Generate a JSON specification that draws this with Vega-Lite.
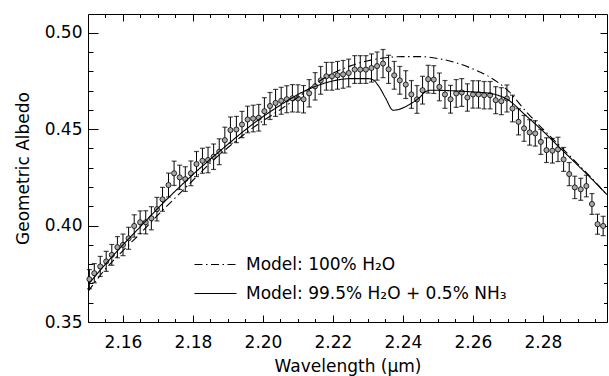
{
  "$schema": "https://vega.github.io/schema/vega-lite/v6.json",
  "width": 519,
  "height": 308,
  "autosize": {"type": "none"},
  "padding": {"left": 88, "top": 14, "right": 2, "bottom": 54},
  "background": "white",
  "datasets": {
    "obs": [
      {"wl": 2.1504, "alb": 0.3722, "err": 0.0050},
      {"wl": 2.1518, "alb": 0.3753, "err": 0.0050},
      {"wl": 2.1535, "alb": 0.3788, "err": 0.0052},
      {"wl": 2.1552, "alb": 0.3814, "err": 0.0052},
      {"wl": 2.1568, "alb": 0.3848, "err": 0.0054},
      {"wl": 2.1584, "alb": 0.3888, "err": 0.0055},
      {"wl": 2.1600, "alb": 0.3900, "err": 0.0056},
      {"wl": 2.1616, "alb": 0.3934, "err": 0.0057},
      {"wl": 2.1632, "alb": 0.3998, "err": 0.0058},
      {"wl": 2.1649, "alb": 0.4017, "err": 0.0059},
      {"wl": 2.1665, "alb": 0.4017, "err": 0.0060},
      {"wl": 2.1681, "alb": 0.4038, "err": 0.0060},
      {"wl": 2.1697, "alb": 0.4085, "err": 0.0061},
      {"wl": 2.1713, "alb": 0.4136, "err": 0.0062},
      {"wl": 2.1730, "alb": 0.4210, "err": 0.0062},
      {"wl": 2.1746, "alb": 0.4271, "err": 0.0063},
      {"wl": 2.1762, "alb": 0.4250, "err": 0.0063},
      {"wl": 2.1778, "alb": 0.4241, "err": 0.0064},
      {"wl": 2.1794, "alb": 0.4271, "err": 0.0064},
      {"wl": 2.1810, "alb": 0.4319, "err": 0.0065},
      {"wl": 2.1827, "alb": 0.4336, "err": 0.0065},
      {"wl": 2.1843, "alb": 0.4340, "err": 0.0066},
      {"wl": 2.1859, "alb": 0.4357, "err": 0.0066},
      {"wl": 2.1875, "alb": 0.4383, "err": 0.0067},
      {"wl": 2.1891, "alb": 0.4443, "err": 0.0067},
      {"wl": 2.1907, "alb": 0.4495, "err": 0.0068},
      {"wl": 2.1924, "alb": 0.4498, "err": 0.0068},
      {"wl": 2.1940, "alb": 0.4524, "err": 0.0068},
      {"wl": 2.1956, "alb": 0.4550, "err": 0.0069},
      {"wl": 2.1972, "alb": 0.4555, "err": 0.0069},
      {"wl": 2.1988, "alb": 0.4559, "err": 0.0069},
      {"wl": 2.2004, "alb": 0.4593, "err": 0.0070},
      {"wl": 2.2020, "alb": 0.4620, "err": 0.0070},
      {"wl": 2.2036, "alb": 0.4636, "err": 0.0070},
      {"wl": 2.2052, "alb": 0.4647, "err": 0.0070},
      {"wl": 2.2068, "alb": 0.4655, "err": 0.0070},
      {"wl": 2.2084, "alb": 0.4660, "err": 0.0071},
      {"wl": 2.2100, "alb": 0.4659, "err": 0.0071},
      {"wl": 2.2116, "alb": 0.4655, "err": 0.0071},
      {"wl": 2.2132, "alb": 0.4686, "err": 0.0071},
      {"wl": 2.2149, "alb": 0.4722, "err": 0.0071},
      {"wl": 2.2165, "alb": 0.4753, "err": 0.0072},
      {"wl": 2.2181, "alb": 0.4774, "err": 0.0072},
      {"wl": 2.2197, "alb": 0.4774, "err": 0.0072},
      {"wl": 2.2213, "alb": 0.4779, "err": 0.0072},
      {"wl": 2.2229, "alb": 0.4784, "err": 0.0072},
      {"wl": 2.2245, "alb": 0.4791, "err": 0.0072},
      {"wl": 2.2262, "alb": 0.4809, "err": 0.0072},
      {"wl": 2.2278, "alb": 0.4809, "err": 0.0072},
      {"wl": 2.2294, "alb": 0.4809, "err": 0.0072},
      {"wl": 2.2310, "alb": 0.4817, "err": 0.0073},
      {"wl": 2.2326, "alb": 0.4827, "err": 0.0073},
      {"wl": 2.2343, "alb": 0.4840, "err": 0.0073},
      {"wl": 2.2359, "alb": 0.4810, "err": 0.0073},
      {"wl": 2.2375, "alb": 0.4779, "err": 0.0072},
      {"wl": 2.2391, "alb": 0.4753, "err": 0.0072},
      {"wl": 2.2408, "alb": 0.4731, "err": 0.0072},
      {"wl": 2.2424, "alb": 0.4680, "err": 0.0072},
      {"wl": 2.2440, "alb": 0.4654, "err": 0.0072},
      {"wl": 2.2456, "alb": 0.4702, "err": 0.0072},
      {"wl": 2.2472, "alb": 0.4759, "err": 0.0072},
      {"wl": 2.2488, "alb": 0.4757, "err": 0.0072},
      {"wl": 2.2504, "alb": 0.4719, "err": 0.0072},
      {"wl": 2.2520, "alb": 0.4680, "err": 0.0072},
      {"wl": 2.2536, "alb": 0.4655, "err": 0.0072},
      {"wl": 2.2552, "alb": 0.4685, "err": 0.0072},
      {"wl": 2.2568, "alb": 0.4690, "err": 0.0072},
      {"wl": 2.2584, "alb": 0.4664, "err": 0.0071},
      {"wl": 2.2600, "alb": 0.4680, "err": 0.0071},
      {"wl": 2.2616, "alb": 0.4680, "err": 0.0071},
      {"wl": 2.2632, "alb": 0.4676, "err": 0.0071},
      {"wl": 2.2649, "alb": 0.4676, "err": 0.0071},
      {"wl": 2.2665, "alb": 0.4650, "err": 0.0070},
      {"wl": 2.2681, "alb": 0.4645, "err": 0.0070},
      {"wl": 2.2697, "alb": 0.4659, "err": 0.0070},
      {"wl": 2.2713, "alb": 0.4607, "err": 0.0069},
      {"wl": 2.2730, "alb": 0.4538, "err": 0.0068},
      {"wl": 2.2746, "alb": 0.4504, "err": 0.0067},
      {"wl": 2.2762, "alb": 0.4483, "err": 0.0066},
      {"wl": 2.2778, "alb": 0.4478, "err": 0.0066},
      {"wl": 2.2794, "alb": 0.4434, "err": 0.0065},
      {"wl": 2.2810, "alb": 0.4391, "err": 0.0064},
      {"wl": 2.2827, "alb": 0.4388, "err": 0.0064},
      {"wl": 2.2843, "alb": 0.4395, "err": 0.0063},
      {"wl": 2.2859, "alb": 0.4343, "err": 0.0062},
      {"wl": 2.2875, "alb": 0.4267, "err": 0.0060},
      {"wl": 2.2891, "alb": 0.4198, "err": 0.0058},
      {"wl": 2.2908, "alb": 0.4188, "err": 0.0057},
      {"wl": 2.2924, "alb": 0.4205, "err": 0.0056},
      {"wl": 2.2940, "alb": 0.4112, "err": 0.0054},
      {"wl": 2.2956, "alb": 0.4007, "err": 0.0052},
      {"wl": 2.2972, "alb": 0.3998, "err": 0.0050}
    ],
    "models": [
      {"model": "Model: 100% H₂O", "wl": 2.150, "alb": 0.3658},
      {"model": "Model: 100% H₂O", "wl": 2.155, "alb": 0.3775},
      {"model": "Model: 100% H₂O", "wl": 2.160, "alb": 0.3870},
      {"model": "Model: 100% H₂O", "wl": 2.165, "alb": 0.3960},
      {"model": "Model: 100% H₂O", "wl": 2.170, "alb": 0.4055},
      {"model": "Model: 100% H₂O", "wl": 2.175, "alb": 0.4145},
      {"model": "Model: 100% H₂O", "wl": 2.180, "alb": 0.4235},
      {"model": "Model: 100% H₂O", "wl": 2.185, "alb": 0.4325},
      {"model": "Model: 100% H₂O", "wl": 2.190, "alb": 0.4405},
      {"model": "Model: 100% H₂O", "wl": 2.195, "alb": 0.4478},
      {"model": "Model: 100% H₂O", "wl": 2.200, "alb": 0.4543},
      {"model": "Model: 100% H₂O", "wl": 2.205, "alb": 0.4602},
      {"model": "Model: 100% H₂O", "wl": 2.210, "alb": 0.4665},
      {"model": "Model: 100% H₂O", "wl": 2.215, "alb": 0.4735},
      {"model": "Model: 100% H₂O", "wl": 2.220, "alb": 0.4790},
      {"model": "Model: 100% H₂O", "wl": 2.225, "alb": 0.4828},
      {"model": "Model: 100% H₂O", "wl": 2.230, "alb": 0.4855},
      {"model": "Model: 100% H₂O", "wl": 2.235, "alb": 0.4870},
      {"model": "Model: 100% H₂O", "wl": 2.240, "alb": 0.4876},
      {"model": "Model: 100% H₂O", "wl": 2.245, "alb": 0.4876},
      {"model": "Model: 100% H₂O", "wl": 2.250, "alb": 0.4866},
      {"model": "Model: 100% H₂O", "wl": 2.255, "alb": 0.4845},
      {"model": "Model: 100% H₂O", "wl": 2.260, "alb": 0.4812},
      {"model": "Model: 100% H₂O", "wl": 2.265, "alb": 0.4768},
      {"model": "Model: 100% H₂O", "wl": 2.270, "alb": 0.4700},
      {"model": "Model: 100% H₂O", "wl": 2.275, "alb": 0.4595},
      {"model": "Model: 100% H₂O", "wl": 2.280, "alb": 0.4500},
      {"model": "Model: 100% H₂O", "wl": 2.285, "alb": 0.4410},
      {"model": "Model: 100% H₂O", "wl": 2.290, "alb": 0.4318},
      {"model": "Model: 100% H₂O", "wl": 2.295, "alb": 0.4225},
      {"model": "Model: 100% H₂O", "wl": 2.2983, "alb": 0.4158},
      {"model": "Model: 99.5% H₂O + 0.5% NH₃", "wl": 2.150, "alb": 0.3693},
      {"model": "Model: 99.5% H₂O + 0.5% NH₃", "wl": 2.155, "alb": 0.3800},
      {"model": "Model: 99.5% H₂O + 0.5% NH₃", "wl": 2.160, "alb": 0.3900},
      {"model": "Model: 99.5% H₂O + 0.5% NH₃", "wl": 2.165, "alb": 0.3995},
      {"model": "Model: 99.5% H₂O + 0.5% NH₃", "wl": 2.170, "alb": 0.4090},
      {"model": "Model: 99.5% H₂O + 0.5% NH₃", "wl": 2.175, "alb": 0.4180},
      {"model": "Model: 99.5% H₂O + 0.5% NH₃", "wl": 2.180, "alb": 0.4265},
      {"model": "Model: 99.5% H₂O + 0.5% NH₃", "wl": 2.185, "alb": 0.4345},
      {"model": "Model: 99.5% H₂O + 0.5% NH₃", "wl": 2.190, "alb": 0.4422},
      {"model": "Model: 99.5% H₂O + 0.5% NH₃", "wl": 2.195, "alb": 0.4497},
      {"model": "Model: 99.5% H₂O + 0.5% NH₃", "wl": 2.200, "alb": 0.4565},
      {"model": "Model: 99.5% H₂O + 0.5% NH₃", "wl": 2.205, "alb": 0.4625},
      {"model": "Model: 99.5% H₂O + 0.5% NH₃", "wl": 2.210, "alb": 0.4680},
      {"model": "Model: 99.5% H₂O + 0.5% NH₃", "wl": 2.215, "alb": 0.4722},
      {"model": "Model: 99.5% H₂O + 0.5% NH₃", "wl": 2.220, "alb": 0.4750},
      {"model": "Model: 99.5% H₂O + 0.5% NH₃", "wl": 2.225, "alb": 0.4762},
      {"model": "Model: 99.5% H₂O + 0.5% NH₃", "wl": 2.2300, "alb": 0.4762},
      {"model": "Model: 99.5% H₂O + 0.5% NH₃", "wl": 2.2315, "alb": 0.4755},
      {"model": "Model: 99.5% H₂O + 0.5% NH₃", "wl": 2.2330, "alb": 0.4725},
      {"model": "Model: 99.5% H₂O + 0.5% NH₃", "wl": 2.2350, "alb": 0.4662},
      {"model": "Model: 99.5% H₂O + 0.5% NH₃", "wl": 2.2372, "alb": 0.4598},
      {"model": "Model: 99.5% H₂O + 0.5% NH₃", "wl": 2.2425, "alb": 0.4635},
      {"model": "Model: 99.5% H₂O + 0.5% NH₃", "wl": 2.2445, "alb": 0.4660},
      {"model": "Model: 99.5% H₂O + 0.5% NH₃", "wl": 2.2465, "alb": 0.4695},
      {"model": "Model: 99.5% H₂O + 0.5% NH₃", "wl": 2.2480, "alb": 0.4702},
      {"model": "Model: 99.5% H₂O + 0.5% NH₃", "wl": 2.255, "alb": 0.4698},
      {"model": "Model: 99.5% H₂O + 0.5% NH₃", "wl": 2.260, "alb": 0.4693},
      {"model": "Model: 99.5% H₂O + 0.5% NH₃", "wl": 2.265, "alb": 0.4685},
      {"model": "Model: 99.5% H₂O + 0.5% NH₃", "wl": 2.270, "alb": 0.4652},
      {"model": "Model: 99.5% H₂O + 0.5% NH₃", "wl": 2.275, "alb": 0.4572},
      {"model": "Model: 99.5% H₂O + 0.5% NH₃", "wl": 2.280, "alb": 0.4490},
      {"model": "Model: 99.5% H₂O + 0.5% NH₃", "wl": 2.285, "alb": 0.4400},
      {"model": "Model: 99.5% H₂O + 0.5% NH₃", "wl": 2.290, "alb": 0.4312},
      {"model": "Model: 99.5% H₂O + 0.5% NH₃", "wl": 2.295, "alb": 0.4222},
      {"model": "Model: 99.5% H₂O + 0.5% NH₃", "wl": 2.2983, "alb": 0.4160}
    ]
  },
  "resolve": {"axis": {"x": "independent", "y": "independent"}},
  "layer": [
    {
      "data": {"name": "obs"},
      "mark": {"type": "errorbar", "color": "black", "ticks": {"size": 5, "thickness": 1.2}, "rule": {"strokeWidth": 1}},
      "encoding": {
        "x": {"field": "wl", "type": "quantitative",
              "scale": {"domain": [2.15, 2.2983], "nice": false, "zero": false},
              "axis": {"orient": "bottom", "values": [2.16, 2.18, 2.20, 2.22, 2.24, 2.26, 2.28], "format": ".2f",
                       "tickSize": -7, "labelPadding": 19, "title": "Wavelength (μm)", "titlePadding": 8}},
        "y": {"field": "alb", "type": "quantitative",
              "scale": {"domain": [0.35, 0.5097], "nice": false, "zero": false},
              "axis": {"orient": "left", "values": [0.35, 0.40, 0.45, 0.50], "format": ".2f",
                       "tickSize": -10, "labelPadding": 16, "title": "Geometric Albedo", "titlePadding": 12}},
        "yError": {"field": "err"}
      }
    },
    {
      "data": {"name": "obs"},
      "mark": {"type": "point", "filled": true, "fill": "#a8a8a8", "stroke": "black", "strokeWidth": 0.8, "size": 26, "opacity": 1},
      "encoding": {
        "x": {"field": "wl", "type": "quantitative",
              "scale": {"domain": [2.15, 2.2983], "nice": false, "zero": false},
              "axis": {"orient": "bottom", "values": [2.155, 2.165, 2.17, 2.175, 2.185, 2.19, 2.195, 2.205, 2.21, 2.215, 2.225, 2.23, 2.235, 2.245, 2.25, 2.255, 2.265, 2.27, 2.275, 2.285, 2.29, 2.295],
                       "tickSize": -3.5, "labels": false, "title": null}},
        "y": {"field": "alb", "type": "quantitative",
              "scale": {"domain": [0.35, 0.5097], "nice": false, "zero": false},
              "axis": {"orient": "left", "values": [0.36, 0.37, 0.38, 0.39, 0.41, 0.42, 0.43, 0.44, 0.46, 0.47, 0.48, 0.49],
                       "tickSize": -5, "labels": false, "title": null}}
      }
    },
    {
      "data": {"name": "models"},
      "transform": [{"filter": "datum.model === 'Model: 100% H₂O'"}],
      "mark": {"type": "line", "color": "black", "strokeWidth": 1.1, "clip": true, "interpolate": "monotone"},
      "encoding": {
        "x": {"field": "wl", "type": "quantitative",
              "scale": {"domain": [2.15, 2.2983], "nice": false, "zero": false},
              "axis": {"orient": "top", "values": [2.16, 2.18, 2.20, 2.22, 2.24, 2.26, 2.28], "tickSize": -7, "labels": false, "title": null}},
        "y": {"field": "alb", "type": "quantitative",
              "scale": {"domain": [0.35, 0.5097], "nice": false, "zero": false},
              "axis": {"orient": "right", "values": [0.35, 0.40, 0.45, 0.50], "tickSize": -7, "labels": false, "title": null}},
        "strokeDash": {"field": "model", "type": "nominal",
                       "scale": {"domain": ["Model: 100% H₂O", "Model: 99.5% H₂O + 0.5% NH₃"], "range": [[8, 3.5, 1.5, 3.5], [1, 0]]},
                       "legend": {"orient": "none", "legendX": 119, "legendY": 242, "title": null,
                                  "symbolType": "M-3,0H3", "symbolSize": 196, "symbolStrokeWidth": 1.1, "symbolStrokeColor": "black",
                                  "labelFont": "DejaVu Sans", "labelFontSize": 17, "labelColor": "black", "labelLimit": 500,
                                  "labelOffset": 22, "rowPadding": 11, "padding": 0}}
      }
    },
    {
      "data": {"name": "models"},
      "transform": [{"filter": "datum.model !== 'Model: 100% H₂O'"}],
      "mark": {"type": "line", "color": "black", "strokeWidth": 1.1, "clip": true, "interpolate": "monotone"},
      "encoding": {
        "x": {"field": "wl", "type": "quantitative",
              "scale": {"domain": [2.15, 2.2983], "nice": false, "zero": false},
              "axis": {"orient": "top", "values": [2.155, 2.165, 2.17, 2.175, 2.185, 2.19, 2.195, 2.205, 2.21, 2.215, 2.225, 2.23, 2.235, 2.245, 2.25, 2.255, 2.265, 2.27, 2.275, 2.285, 2.29, 2.295],
                       "tickSize": -3.5, "labels": false, "title": null}},
        "y": {"field": "alb", "type": "quantitative",
              "scale": {"domain": [0.35, 0.5097], "nice": false, "zero": false},
              "axis": {"orient": "right", "values": [0.36, 0.37, 0.38, 0.39, 0.41, 0.42, 0.43, 0.44, 0.46, 0.47, 0.48, 0.49],
                       "tickSize": -3.5, "labels": false, "title": null}},
        "strokeDash": {"field": "model", "type": "nominal",
                       "scale": {"domain": ["Model: 100% H₂O", "Model: 99.5% H₂O + 0.5% NH₃"], "range": [[8, 3.5, 1.5, 3.5], [1, 0]]},
                       "legend": {"orient": "none", "legendX": 119, "legendY": 242, "title": null,
                                  "symbolType": "M-3,0H3", "symbolSize": 196, "symbolStrokeWidth": 1.1, "symbolStrokeColor": "black",
                                  "labelFont": "DejaVu Sans", "labelFontSize": 17, "labelColor": "black", "labelLimit": 500,
                                  "labelOffset": 22, "rowPadding": 11, "padding": 0}}
      }
    }
  ],
  "config": {
    "view": {"stroke": "black", "strokeWidth": 1},
    "axis": {"domain": false, "grid": false, "tickColor": "black", "tickWidth": 1, "labelColor": "black", "titleColor": "black",
             "labelFont": "DejaVu Sans", "labelFontSize": 17, "titleFont": "DejaVu Sans", "titleFontSize": 17, "titleFontWeight": "normal"}
  }
}
